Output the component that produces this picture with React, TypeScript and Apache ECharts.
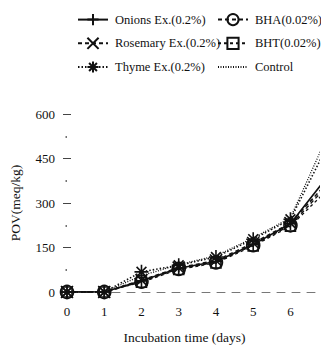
import React, { useEffect, useRef } from "react";
import * as echarts from "echarts";

const days = [0, 1, 2, 3, 4, 5, 6, 7];
const onions = [0, 0, 38, 80, 103, 160, 230, 390];
const bha = [0, 0, 35, 78, 100, 158, 225, 360];
const rosemary = [0, 0, 40, 82, 106, 165, 232, 370];
const bht = [0, 0, 33, 76, 98, 155, 222, 345];
const thyme = [0, 0, 68, 90, 118, 178, 245, 495];
const control = [0, 0, 55, 92, 122, 182, 250, 528];
const yTicks = [0, 150, 300, 450, 600];

const FONT = "'Liberation Serif', 'DejaVu Serif', serif";
const INK = "#111";

const PLUS = "path://M5,0V10M0,5H10";
const CROSS = "path://M0,0L10,10M10,0L0,10";
const STAR = "path://M5,0V10M0,5H10M1.5,1.5L8.5,8.5M8.5,1.5L1.5,8.5";

const pairs = (vals: number[]) => days.map((d, i) => [d, vals[i]]);

export default function App() {
  const ref = useRef<HTMLDivElement>(null);
  useEffect(() => {
    if (!ref.current) return;
    const chart = echarts.init(ref.current, null, { renderer: "svg" });
    const mk = (
      name: string,
      vals: number[],
      symbol: string,
      size: number,
      type: any,
      width: number
    ) => ({
      name,
      type: "line",
      data: pairs(vals),
      symbol,
      symbolSize: size,
      showSymbol: symbol !== "none",
      clip: true,
      lineStyle: { color: INK, width, type },
      itemStyle: { color: "transparent", borderColor: INK, borderWidth: 1.6 },
      emphasis: { disabled: true },
    });
    const legendBase = {
      orient: "vertical",
      top: 8,
      padding: 5,
      itemWidth: 30,
      itemHeight: 14,
      itemGap: 10.5,
      textStyle: { fontFamily: FONT, fontSize: 12.5, color: INK, padding: [0, 0, 0, 2] },
      selectedMode: false,
    };
    chart.setOption({
      animation: false,
      legend: [
        { ...legendBase, left: 72, data: ["Onions Ex.(0.2%)", "Rosemary Ex.(0.2%)", "Thyme Ex.(0.2%)"] },
        {
          ...legendBase,
          left: 212,
          data: [
            "BHA(0.02%)",
            "BHT(0.02%)",
            { name: "Control", itemStyle: { color: "transparent", borderColor: "transparent", borderWidth: 0 } },
          ],
        },
      ],
      grid: { left: 65, right: 0, top: 114, bottom: 51 },
      xAxis: {
        type: "value",
        min: 0,
        max: 6.74,
        interval: 1,
        name: "Incubation time (days)",
        nameLocation: "middle",
        nameGap: 38,
        nameTextStyle: { fontFamily: FONT, fontSize: 13.5, color: INK, padding: [0, 16, 0, 0] },
        axisLine: { lineStyle: { color: "#777", width: 1, type: [8, 7] } },
        axisTick: { show: false },
        splitLine: { show: false },
        axisLabel: {
          fontFamily: FONT,
          fontSize: 13,
          color: INK,
          margin: 13,
          formatter: (v: number) => (Number.isInteger(v) ? String(v) : ""),
        },
      },
      yAxis: [
        {
          type: "value",
          min: yTicks[0],
          max: yTicks[yTicks.length - 1],
          interval: 150,
          name: "POV(meq/kg)",
          nameLocation: "middle",
          nameGap: 45,
          nameTextStyle: { fontFamily: FONT, fontSize: 13.5, color: INK },
          axisLine: { show: false },
          axisTick: { show: true, length: 4, lineStyle: { color: "#444" } },
          minorTick: { show: true, splitNumber: 2, length: 1.5, lineStyle: { color: "#444", width: 1.5 } },
          splitLine: { show: false },
          axisLabel: { fontFamily: FONT, fontSize: 13, color: INK, margin: 12 },
        },
        {
          type: "value",
          position: "left",
          min: yTicks[0],
          max: yTicks[yTicks.length - 1],
          interval: 150,
          axisLine: { show: false },
          axisTick: { show: true, inside: true, length: 4, lineStyle: { color: "#444" } },
          axisLabel: { show: false },
          splitLine: { show: false },
        },
      ],
      series: [
        mk("Onions Ex.(0.2%)", onions, PLUS, 13, "solid", 1.6),
        mk("BHA(0.02%)", bha, "circle", 13, [4, 3], 1.4),
        mk("Rosemary Ex.(0.2%)", rosemary, CROSS, 12, [4, 3], 1.5),
        mk("BHT(0.02%)", bht, "rect", 10, [3, 3], 1.3),
        mk("Thyme Ex.(0.2%)", thyme, STAR, 14, [1.5, 2], 1.6),
        mk("Control", control, "none", 1, [1, 1.5], 1.3),
      ],
    });
    return () => chart.dispose();
  }, []);
  return (
    <div
      ref={ref}
      style={{ position: "fixed", left: 0, top: 0, width: 321, height: 349, background: "#fff" }}
    />
  );
}
